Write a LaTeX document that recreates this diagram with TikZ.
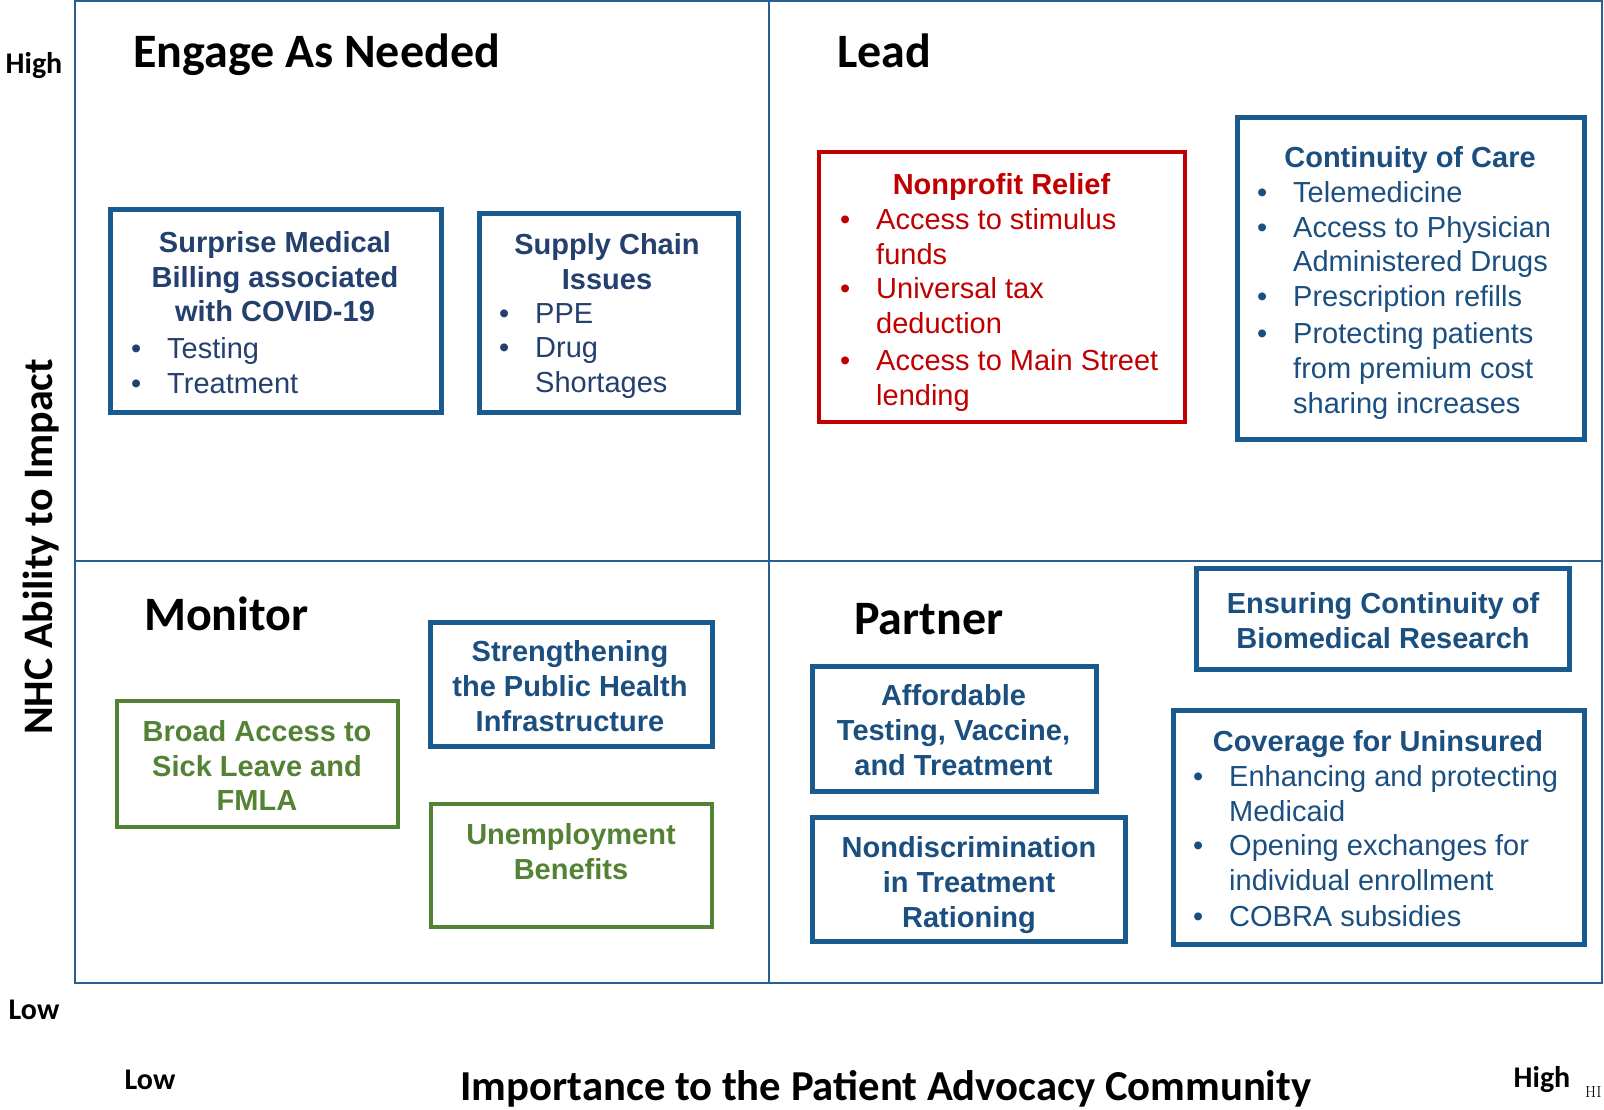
\documentclass[tikz,border=0pt]{standalone}
\usepackage{fontspec}
\newfontfamily\arialf{Liberation Sans}
\newfontfamily\calib{Carlito}
\definecolor{boxblue}{HTML}{195A8F}
\definecolor{txtnavy}{HTML}{24406E}
\definecolor{txtblue}{HTML}{1B4F80}
\definecolor{boxred}{HTML}{C00000}
\definecolor{boxgreen}{HTML}{548235}
\definecolor{framecol}{HTML}{2A5F8F}
\newcommand\itm[1]{\makebox[36pt][l]{\textbullet}#1}
\newcommand\cnt[1]{\hspace*{36pt}#1}
\tikzset{
 bx/.style={draw, line width=5pt, inner sep=0pt},
 bluebox/.style={bx, draw=boxblue},
 redbox/.style={bx, draw=boxred, line width=4pt},
 greenbox/.style={bx, draw=boxgreen, line width=4.5pt},
 ttl/.style={anchor=north, align=center, inner sep=0pt, font=\arialf\bfseries\fontsize{29}{34.8}\selectfont, execute at begin node=\strut, execute at end node=\strut},
 lst/.style={anchor=north west, align=left, inner sep=0pt, font=\arialf\fontsize{29}{34.8}\selectfont, execute at begin node=\strut, execute at end node=\strut},
 quad/.style={anchor=base west, inner sep=0pt, font=\calib\bfseries\fontsize{48}{56}\selectfont},
 axl/.style={anchor=base, inner sep=0pt, font=\calib\bfseries\fontsize{30}{36}\selectfont},
}
\begin{document}
\begin{tikzpicture}[x=1pt,y=-1pt]
\useasboundingbox (0,0) rectangle (1604,1110);
\fill[white] (0,0) rectangle (1604,1110);
% frame
\draw[framecol, line width=2pt] (74.7,1) rectangle (1602,983);
\draw[framecol, line width=2pt] (769,1) -- (769,983);
\draw[framecol, line width=2pt] (74.7,561) -- (1602,561);
% quadrant titles
\node[quad] (qengage) at (133,68) {Engage As Needed};
\node[quad] (qlead) at (837,68) {Lead};
\node[quad] (qmonitor) at (144,630) {Monitor};
\node[quad] (qpartner) at (854,634) {Partner};
% axis labels
\node[axl] (yhigh) at (34,73.5) {High};
\node[axl] (ylow) at (34,1019) {Low};
\node[axl] (xlow) at (150,1089) {Low};
\node[axl] (xhigh) at (1542,1087) {High};
\node[anchor=base west, inner sep=0pt, font=\rmfamily\fontsize{16}{19}\selectfont] (xhi) at (1585,1097) {HI};
\node[anchor=base, inner sep=0pt, font=\calib\bfseries\fontsize{42.7}{50}\selectfont] (xtitle) at (886,1100) {Importance to the Patient Advocacy Community};
\node[rotate=90, inner sep=0pt, font=\calib\bfseries\fontsize{42}{50}\selectfont] (ytitle) at (41,547) {NHC Ability to Impact};
% boxes
\node[bluebox, minimum width=330.5pt, minimum height=202.3pt] (b1) at (275.75,310.85) {};
\node[bluebox, minimum width=259pt, minimum height=198pt] (b2) at (608.5,313) {};
\node[redbox, minimum width=366pt, minimum height=269.5pt] (b3) at (1002,286.75) {};
\node[bluebox, minimum width=347pt, minimum height=321pt] (b4) at (1410.5,278.5) {};
\node[bluebox, minimum width=282pt, minimum height=124pt] (b5) at (571,684) {};
\node[greenbox, minimum width=281pt, minimum height=126pt] (b6) at (257.5,764) {};
\node[greenbox, minimum width=281pt, minimum height=123pt] (b7) at (571.5,865.5) {};
\node[bluebox, minimum width=284pt, minimum height=125pt] (b8) at (954,728.5) {};
\node[bluebox, minimum width=313pt, minimum height=124pt] (b9) at (968.5,879) {};
\node[bluebox, minimum width=373pt, minimum height=101pt] (b10) at (1382.5,618.5) {};
\node[bluebox, minimum width=411pt, minimum height=234pt] (b11) at (1378.5,827) {};
% box texts
\node[ttl, text=txtnavy] (t1) at (275,231) {Surprise Medical\\Billing associated\\with COVID-19};
\node[lst, text=txtnavy] (l1) at (131,337) {\itm{Testing}\\\itm{Treatment}};
\node[ttl, text=txtnavy] (t2) at (607,233.5) {Supply Chain\\Issues};
\node[lst, text=txtnavy] (l2) at (499,303) {\itm{PPE}\\\itm{Drug}\\\cnt{Shortages}};
\node[ttl, text=boxred] (t3) at (1001.5,170) {Nonprofit Relief};
\node[lst, text=boxred] (l3) at (840,208) {\itm{Access to stimulus}\\\cnt{funds}\\\itm{Universal tax}\\\cnt{deduction}\\[2pt]\itm{Access to Main Street}\\\cnt{lending}};
\node[ttl, text=txtblue] (t4) at (1410,143) {Continuity of Care};
\node[lst, text=txtblue] (l4) at (1257,181) {\itm{Telemedicine}\\\itm{Access to Physician}\\\cnt{Administered Drugs}\\\itm{Prescription refills}\\[2pt]\itm{Protecting patients}\\\cnt{from premium cost}\\\cnt{sharing increases}};
\node[ttl, text=txtblue] (t5) at (570,640.5) {Strengthening\\the Public Health\\Infrastructure};
\node[ttl, text=boxgreen] (t6) at (257,720) {Broad Access to\\Sick Leave and\\FMLA};
\node[ttl, text=boxgreen] (t7) at (571,823.5) {Unemployment\\Benefits};
\node[ttl, text=txtblue] (t8) at (953.5,684.5) {Affordable\\Testing, Vaccine,\\and Treatment};
\node[ttl, text=txtblue] (t9) at (969,836.5) {Nondiscrimination\\in Treatment\\Rationing};
\node[ttl, text=txtblue] (t10) at (1383,592.5) {Ensuring Continuity of\\Biomedical Research};
\node[ttl, text=txtblue] (t11) at (1378,727) {Coverage for Uninsured};
\node[lst, text=txtblue] (l11) at (1193,765) {\itm{Enhancing and protecting}\\\cnt{Medicaid}\\\itm{Opening exchanges for}\\\cnt{individual enrollment}\\[1pt]\itm{COBRA subsidies}};
\end{tikzpicture}
\end{document}
